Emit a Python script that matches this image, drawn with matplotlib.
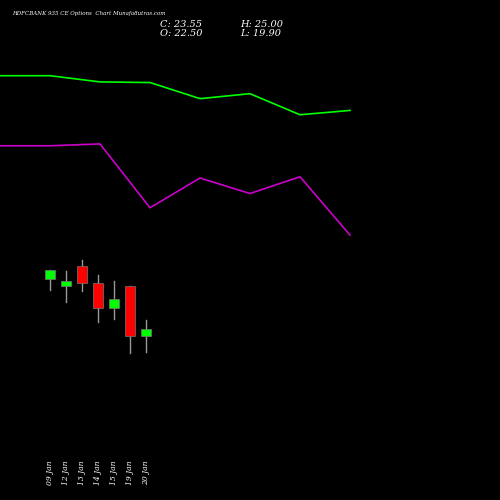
import matplotlib
matplotlib.use('Agg')
import matplotlib.pyplot as plt

dates = ['09 Jan', '12 Jan', '13 Jan', '14 Jan', '15 Jan', '19 Jan', '20 Jan']
opens = [31.6, 30.5, 33.7, 31.0, 26.9, 30.5, 22.50]
closes = [33.1, 31.3, 31.0, 26.9, 28.4, 22.4, 23.55]
highs = [33.1, 32.9, 34.7, 32.3, 31.3, 30.5, 25.00]
lows = [29.8, 27.9, 29.7, 24.7, 25.2, 19.7, 19.90]

# overlay lines (spaced wider than the candles)
green_line = [64.4, 64.4, 63.4, 63.3, 60.7, 61.5, 58.1, 58.8]
magenta_line = [53.1, 53.1, 53.4, 43.1, 47.9, 45.4, 48.1, 38.7]

fig = plt.figure(figsize=(5, 5), dpi=100, facecolor='black')
ax = fig.add_axes([0, 0, 1, 1])
ax.set_facecolor('black')
ax.set_xlim(0, 500)
ax.set_ylim(-4.03, 76.61)
ax.axis('off')

lx = [i * 50 for i in range(len(green_line))]
ax.plot(lx, green_line, color='#00ff00', lw=1.2)
ax.plot(lx, magenta_line, color='#cc00cc', lw=1.2)

for i in range(len(dates)):
    x = 50 + i * 16
    col = '#00ff00' if closes[i] >= opens[i] else '#ff0000'
    ax.plot([x, x], [lows[i], highs[i]], color='#999999', lw=1, zorder=1)
    lo, hi = min(opens[i], closes[i]), max(opens[i], closes[i])
    ax.bar(x, hi - lo, bottom=lo, width=9.5, color=col, edgecolor='#777777', lw=0.5, zorder=2)
    ax.text(x, 485 / -6.2 + 76.61, dates[i], rotation=90, color='white', fontsize=5.5,
            family='DejaVu Serif', style='italic', ha='center', va='bottom')

fig.text(0.024, 0.972, 'HDFCBANK 935 CE Options  Chart Munafa8utras.com', color='white',
         fontsize=4, family='DejaVu Serif', style='italic', va='center')
fig.text(0.32, 0.951, 'C: 23.55', color='white', fontsize=7, family='DejaVu Serif', style='italic', va='center')
fig.text(0.32, 0.933, 'O: 22.50', color='white', fontsize=7, family='DejaVu Serif', style='italic', va='center')
fig.text(0.48, 0.951, 'H: 25.00', color='white', fontsize=7, family='DejaVu Serif', style='italic', va='center')
fig.text(0.48, 0.933, 'L: 19.90', color='white', fontsize=7, family='DejaVu Serif', style='italic', va='center')

fig.savefig('out.png', dpi=100, facecolor='black')
